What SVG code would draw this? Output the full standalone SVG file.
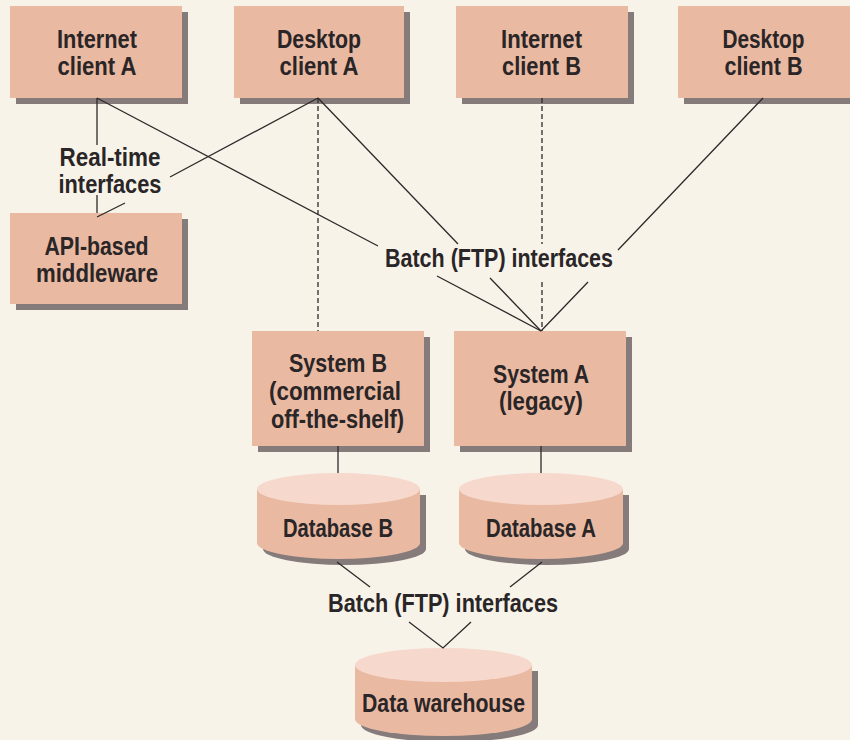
<svg xmlns="http://www.w3.org/2000/svg" width="850" height="740" viewBox="0 0 850 740">
<style>
.bg{fill:#f7f3e9}
.box{fill:#e9b9a2}
.shd{fill:#857b7b}
.top{fill:#f6d9cc}
.t{font-family:"Liberation Sans",Arial,sans-serif;font-weight:bold;font-size:25px;fill:#2a2526;text-anchor:middle}
.s{stroke:#2e2a2a;stroke-width:1.3;fill:none}
.d{stroke:#2e2a2a;stroke-width:1.3;fill:none;stroke-dasharray:5 3}
</style>
<rect class="bg" x="0" y="0" width="850" height="740"/>
<g id="label-realtime"><text class="t" x="110" y="166" textLength="101" lengthAdjust="spacingAndGlyphs">Real-time</text><text class="t" x="110" y="193" textLength="103" lengthAdjust="spacingAndGlyphs">interfaces</text></g>
<g id="label-batch1"><text class="t" x="499" y="267" textLength="228" lengthAdjust="spacingAndGlyphs">Batch (FTP) interfaces</text></g>
<g id="label-batch2"><text class="t" x="443" y="612" textLength="230" lengthAdjust="spacingAndGlyphs">Batch (FTP) interfaces</text></g>
<g id="internet-client-a"><rect class="shd" x="16" y="12" width="172" height="92"/><rect class="box" x="10" y="6" width="172" height="92"/><text class="t" x="97" y="48" textLength="80" lengthAdjust="spacingAndGlyphs">Internet</text><text class="t" x="97" y="75" textLength="79" lengthAdjust="spacingAndGlyphs">client A</text></g>
<g id="desktop-client-a"><rect class="shd" x="240" y="12" width="170" height="92"/><rect class="box" x="234" y="6" width="170" height="92"/><text class="t" x="319" y="48" textLength="84" lengthAdjust="spacingAndGlyphs">Desktop</text><text class="t" x="319" y="75" textLength="79" lengthAdjust="spacingAndGlyphs">client A</text></g>
<g id="internet-client-b"><rect class="shd" x="462" y="12" width="172" height="92"/><rect class="box" x="456" y="6" width="172" height="92"/><text class="t" x="541.5" y="48" textLength="81" lengthAdjust="spacingAndGlyphs">Internet</text><text class="t" x="541.5" y="75" textLength="79" lengthAdjust="spacingAndGlyphs">client B</text></g>
<g id="desktop-client-b"><rect class="shd" x="684" y="12" width="172" height="92"/><rect class="box" x="678" y="6" width="174" height="92"/><text class="t" x="763.5" y="48" textLength="82" lengthAdjust="spacingAndGlyphs">Desktop</text><text class="t" x="763.5" y="75" textLength="78" lengthAdjust="spacingAndGlyphs">client B</text></g>
<g id="api-middleware"><rect class="shd" x="16" y="219" width="172" height="91"/><rect class="box" x="10" y="213" width="172" height="91"/><text class="t" x="96.5" y="255" textLength="104" lengthAdjust="spacingAndGlyphs">API-based</text><text class="t" x="97" y="282" textLength="122" lengthAdjust="spacingAndGlyphs">middleware</text></g>
<g id="system-b"><rect class="shd" x="258" y="337" width="172" height="115"/><rect class="box" x="252" y="331" width="172" height="115"/><text class="t" x="338" y="372" textLength="98" lengthAdjust="spacingAndGlyphs">System B</text><text class="t" x="335" y="400" textLength="132" lengthAdjust="spacingAndGlyphs">(commercial</text><text class="t" x="337.5" y="428" textLength="133" lengthAdjust="spacingAndGlyphs">off-the-shelf)</text></g>
<g id="system-a"><rect class="shd" x="460" y="337" width="172" height="115"/><rect class="box" x="454" y="331" width="172" height="115"/><text class="t" x="541" y="383" textLength="96" lengthAdjust="spacingAndGlyphs">System A</text><text class="t" x="541" y="410" textLength="84" lengthAdjust="spacingAndGlyphs">(legacy)</text></g>
<g id="database-b"><path class="shd" d="M263,495 V549 A81.5,16 0 0 0 426,549 V495 Z"/><path class="box" d="M257,489 V543 A81.5,16 0 0 0 420,543 V489 Z"/><ellipse class="top" cx="338.5" cy="489" rx="81.5" ry="16"/><text class="t" x="338" y="537" textLength="110" lengthAdjust="spacingAndGlyphs">Database B</text></g>
<g id="database-a"><path class="shd" d="M465,495 V549 A82,16 0 0 0 629,549 V495 Z"/><path class="box" d="M459,489 V543 A82,16 0 0 0 623,543 V489 Z"/><ellipse class="top" cx="541" cy="489" rx="82" ry="16"/><text class="t" x="541" y="537" textLength="110" lengthAdjust="spacingAndGlyphs">Database A</text></g>
<g id="data-warehouse"><path class="shd" d="M361,671 V725 A88.5,17 0 0 0 538,725 V671 Z"/><path class="box" d="M355,665 V719 A88.5,17 0 0 0 532,719 V665 Z"/><ellipse class="top" cx="443.5" cy="665" rx="88.5" ry="17"/><text class="t" x="443.5" y="712" textLength="163" lengthAdjust="spacingAndGlyphs">Data warehouse</text></g>
<g id="connectors">
<path class="s" d="M97,98 V145 M97,195 V213"/>
<path class="s" d="M318,98 L170,177 M125,203 L97,217"/>
<path class="s" d="M97,98 L378,246 M437,276 L541,331"/>
<path class="s" d="M318,98 L458,244 M490,278 L541,331"/>
<path class="d" d="M318,98 V331"/>
<path class="d" d="M542,98 V244 M542,282 V331"/>
<path class="s" d="M763,98 L618,250 M588,282 L541,331"/>
<path class="s" d="M338,446 V473 M541,446 V473"/>
<path class="s" d="M337,562 L370,587 M542,562 L510,587"/>
<path class="s" d="M409,622 L443,648 L471,622"/>
</g>
</svg>
